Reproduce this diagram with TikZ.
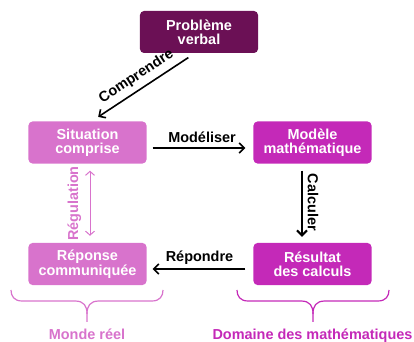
\documentclass[tikz,border=0pt]{standalone}
\usepackage{fontspec}
\setmainfont{Liberation Sans}
\usetikzlibrary{arrows.meta}
\definecolor{cdark}{HTML}{6B1055}
\definecolor{clight}{HTML}{D873CC}
\definecolor{cmid}{HTML}{C429B8}
\tikzset{
  box/.style={rounded corners=4bp, minimum width=118bp, minimum height=42bp, inner sep=0pt,
    text=white, align=center, font=\fontsize{14.5}{14.5}\selectfont\bfseries},
  lbl/.style={font=\fontsize{14.5}{14.5}\selectfont\bfseries, inner sep=0pt},
  arr/.style={line width=1.6bp, -{Straight Barb[length=5bp,width=10bp,line width=1.6bp]}},
  brc/.style={line width=1.2bp},
}
\begin{document}
\begin{tikzpicture}[x=1bp,y=1bp]
\useasboundingbox (0,0) rectangle (414,342);
\node[box, fill=cdark] (prob) at (199,310) {Problème\\verbal};
\node[box, fill=clight] (sit) at (87.5,199.5) {Situation\\comprise};
\node[box, fill=cmid] (mod) at (312.5,199.5) {Modèle\\mathématique};
\node[box, fill=clight] (rep) at (87.5,78) {Réponse\\communiquée};
\node[box, fill=cmid] (res) at (312.5,78) {Résultat\\des calculs};
% Comprendre
\draw[arr, shorten <=8bp, shorten >=8bp] ([xshift=-4bp]prob.south) -- node[lbl, sloped, above=5bp] {Comprendre} ([xshift=4bp]sit.north);
% Modeliser
\draw[arr, shorten <=6bp, shorten >=8bp] ([yshift=-5.5bp]sit.east) -- ([yshift=-5.5bp]mod.west);
\node[lbl, anchor=base] (lmod) at (202,200) {Modéliser};
% Calculer
\draw[line width=2.6bp, -{Straight Barb[length=5bp,width=10bp,line width=2bp]}, shorten <=7bp, shorten >=6bp] ([xshift=-10.5bp]mod.south) -- ([xshift=-10.5bp]res.north);
\node[lbl, rotate=-90, anchor=base] (lcal) at (308,139.5) {Calculer};
% Regulation
\draw[clight, line width=1bp, {Straight Barb[length=4bp,width=9bp]}-{Straight Barb[length=4bp,width=9bp]}, shorten <=7bp, shorten >=7bp] ([xshift=2.5bp]sit.south) -- ([xshift=2.5bp]rep.north);
\node[lbl, text=clight, rotate=90, anchor=base] (lreg) at (78,138.5) {Régulation};
% Repondre
\draw[arr, shorten <=8bp, shorten >=6bp] ([yshift=-5bp]res.west) -- ([yshift=-5bp]rep.east);
\node[lbl, anchor=base] (lrep) at (199.5,80.3) {Répondre};
% braces
\draw[clight, brc] (11,52) .. controls (11,46) and (14,41) .. (22,41) -- (75,41) .. controls (84,41) and (87,36) .. (87,28) -- (87,20);
\draw[clight, brc] (87,28) .. controls (87,36) and (90,41) .. (99,41) -- (152,41) .. controls (160,41) and (163,46) .. (163,52);
\draw[cmid, brc] (237,52) .. controls (237,46) and (240,41) .. (248,41) -- (301,41) .. controls (310,41) and (313,36) .. (313,28) -- (313,20);
\draw[cmid, brc] (313,28) .. controls (313,36) and (316,41) .. (325,41) -- (378,41) .. controls (386,41) and (389,46) .. (389,52);
\node[lbl, text=clight, anchor=base] (lmr) at (87,3) {Monde réel};
\node[lbl, text=cmid, anchor=base] (ldm) at (312.5,3) {Domaine des mathématiques};
\end{tikzpicture}
\end{document}
